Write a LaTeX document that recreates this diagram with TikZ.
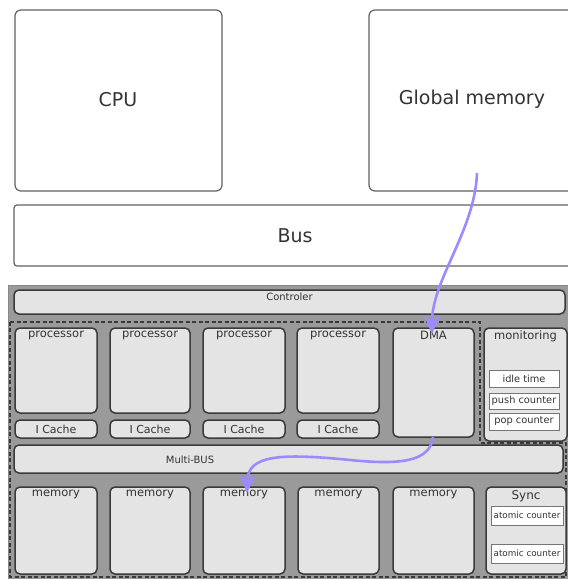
\documentclass[tikz,border=0pt]{standalone}
\usepackage{fontspec}
\setmainfont{DejaVu Sans}
\usetikzlibrary{arrows.meta}
\definecolor{bgray}{HTML}{9A9A9A}
\definecolor{boxfill}{HTML}{E4E4E4}
\definecolor{edge}{HTML}{3A3A3A}
\definecolor{txt}{HTML}{333333}
\definecolor{flow}{HTML}{9B8BFF}
\tikzset{
  big/.style={draw=edge!80, line width=1.2pt, fill=white, rounded corners=6pt, text=txt, font=\fontsize{19}{21}\selectfont},
  unit/.style={draw=edge, line width=1.5pt, fill=boxfill, rounded corners=5pt, inner sep=0pt},
  lbl/.style={text=txt, font=\fontsize{11.5}{13}\selectfont, inner sep=1pt},
  small/.style={draw=edge!70, line width=1pt, fill=white, inner sep=0pt, text=txt, font=\fontsize{9.8}{11}\selectfont},
  flowarrow/.style={draw=flow, line width=2.6pt, -{Stealth[length=18pt,width=16pt,inset=5pt]}},
}
\newcommand{\boxat}[6]{% name, x1, y1, x2, y2, style
  \path[#6] (#2,#3) rectangle (#4,#5);
  \coordinate (#1-nw) at (#2,#3);
  \coordinate (#1-n) at ({(#2+#4)/2},#3);
  \coordinate (#1-s) at ({(#2+#4)/2},#5);
  \coordinate (#1-c) at ({(#2+#4)/2},{(#3+#5)/2});
}
\begin{document}
\begin{tikzpicture}[x=1pt,y=-1pt]
\useasboundingbox (0,0) rectangle (568,579);
\clip (0,0) rectangle (568,579);
% top level
\boxat{cpu}{15}{10}{222}{191}{big}
\node[big, draw=none, fill=none] (cpul) at (118,100) {CPU};
\boxat{gm}{369}{10}{600}{191}{big}
\node[big, draw=none, fill=none] (gml) at (472,99) {Global memory};
\boxat{bus}{14}{205}{600}{266}{big, rounded corners=3pt}
\node[big, draw=none, fill=none] (busl) at (295,236) {Bus};
% accelerator background
\fill[bgray] (8,285) rectangle (580,585);
\draw[edge!60, line width=0.8pt] (8,585) -- (8,285) -- (580,285);
% controller
\boxat{ctl}{14}{290}{565}{314}{unit}
\node[lbl, anchor=north, font=\fontsize{10}{11}\selectfont] (ctll) at ([yshift=-1.5pt]ctl-n) {Controler};
% dashed region
\draw[edge, line width=1.3pt, dash pattern=on 4pt off 2.5pt] (10,322) -- (480,322) -- (480,443) -- (566,443) -- (566,577) -- (10,577) -- cycle;
% processors and caches
\foreach \i/\xa/\xb in {1/15/97, 2/110/190, 3/203/285, 4/297/379}{
  \boxat{p\i}{\xa}{328}{\xb}{413}{unit}
  \node[lbl, anchor=north] (p\i l) at ([yshift=-2pt]p\i-n) {processor};
  \boxat{c\i}{\xa}{420}{\xb}{438}{unit}
  \node[lbl, font=\fontsize{11}{12}\selectfont] (c\i l) at (c\i-c) {I Cache};
}
% DMA
\boxat{dma}{393}{328}{474}{437}{unit}
\node[lbl, anchor=north] (dmal) at ([yshift=-2pt]dma-n) {DMA};
% monitoring
\boxat{mon}{484}{328}{567}{441}{unit}
\node[lbl, anchor=north] (monl) at ([yshift=-2pt]mon-n) {monitoring};
\node[small, minimum width=70pt, minimum height=17pt] (idle) at (524,378.5) {idle time};
\node[small, minimum width=70pt, minimum height=16pt] (push) at (524,401) {push counter};
\node[small, minimum width=70pt, minimum height=17pt] (pop) at (524,421.5) {pop counter};
% multi-bus
\boxat{mb}{14}{445}{563}{473}{unit}
\node[lbl, font=\fontsize{10}{11}\selectfont] (mbl) at (190,460) {Multi-BUS};
% memories
\foreach \i/\xa/\xb in {1/15/97, 2/110/190, 3/203/285, 4/298/379, 5/393/474}{
  \boxat{m\i}{\xa}{487}{\xb}{574}{unit}
  \node[lbl, anchor=north] (m\i l) at ([yshift=-2pt]m\i-n) {memory};
}
% sync
\boxat{sync}{486}{487}{566}{574}{unit}
\node[lbl, anchor=north, font=\fontsize{12}{13}\selectfont] (syncl) at ([yshift=-2pt]sync-n) {Sync};
\node[small, minimum width=72pt, minimum height=19pt, font=\fontsize{8.8}{10}\selectfont] (ac1) at (527,515.5) {atomic counter};
\node[small, minimum width=72pt, minimum height=19pt, font=\fontsize{8.8}{10}\selectfont] (ac2) at (527,553.5) {atomic counter};
% flows
\coordinate (gmsrc) at (477,173);
\coordinate (dmatip) at (432,334);
\draw[flowarrow] (gmsrc) .. controls (475,230) and (432,280) .. (dmatip);
\coordinate (dmasrc) at (433,437);
\coordinate (memtip) at (247,493);
\draw[flowarrow] (dmasrc) .. controls (430,462) and (400,465) .. (350,460) .. controls (280,453) and (248,455) .. (memtip);
\end{tikzpicture}
\end{document}
